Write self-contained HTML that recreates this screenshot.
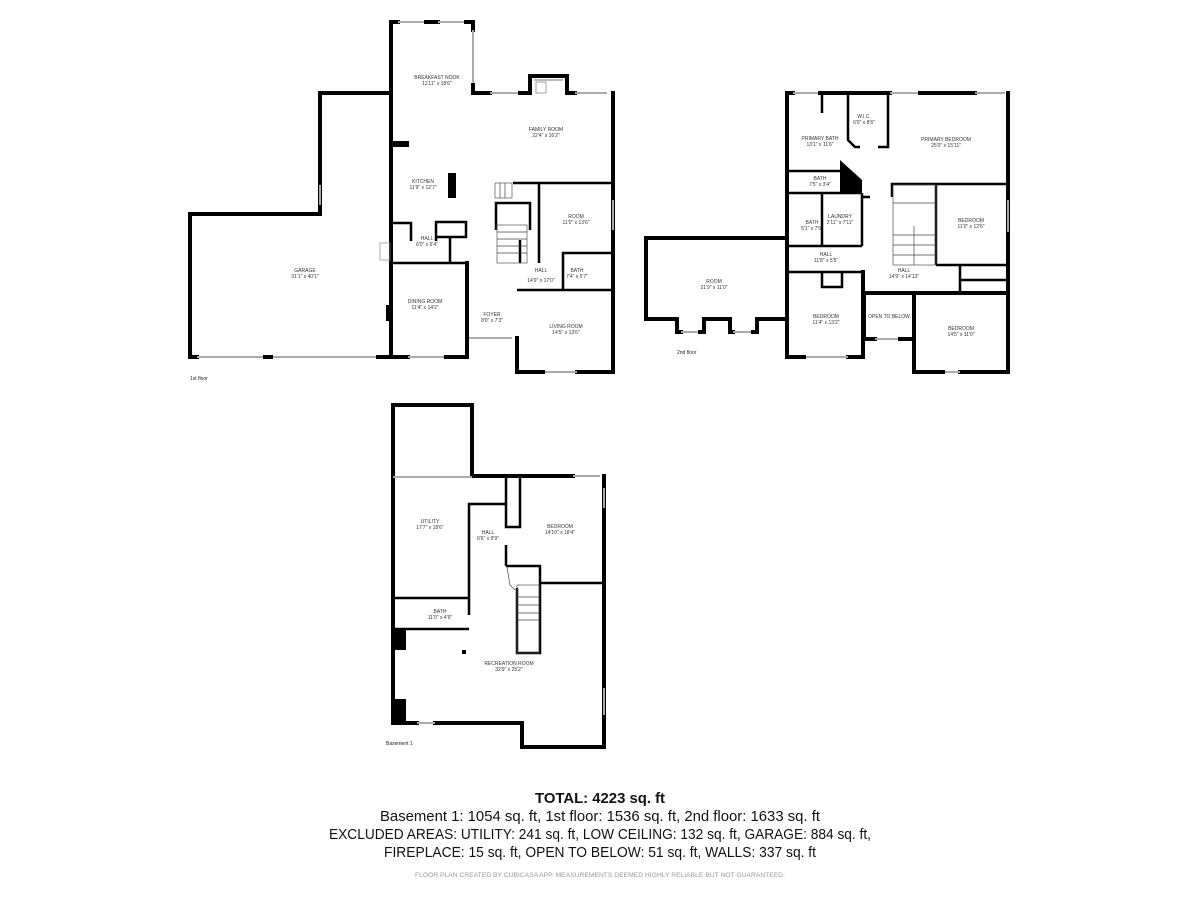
<!DOCTYPE html>
<html><head><meta charset="utf-8"><style>
html,body{margin:0;padding:0;background:#fff;width:1200px;height:900px;overflow:hidden}
svg{display:block}
.w{fill:none;stroke:#000;stroke-width:4;stroke-linecap:square}
.t{fill:none;stroke:#000;stroke-width:2.5}
.g{fill:none;stroke:#aaa;stroke-width:2}
.s{fill:none;stroke:#444;stroke-width:0.7}
text{font-family:"Liberation Sans",sans-serif;fill:#222}
.l{font-size:5px;text-anchor:middle;fill:#333}
</style></head><body>
<svg width="1200" height="900" viewBox="0 0 1200 900">
<!-- FIRST FLOOR -->
<polyline class="w" points="391,93 320,93 320,214 190,214 190,357 197,357"/>
<line class="g" x1="197" y1="357" x2="378" y2="357"/>
<line class="w" x1="378" y1="357" x2="391" y2="357"/>
<line class="w" x1="265" y1="357" x2="271" y2="357"/>
<line class="g" x1="320" y1="185" x2="320" y2="205"/>
<polyline class="w" points="391,22 391,357 408,357"/>
<line class="g" x1="408" y1="357" x2="446" y2="357"/>
<polyline class="w" points="446,357 467,357 467,263"/>
<line class="w" x1="391" y1="22" x2="398" y2="22"/>
<line class="g" x1="398" y1="22" x2="426" y2="22"/>
<line class="w" x1="426" y1="22" x2="438" y2="22"/>
<line class="g" x1="438" y1="22" x2="466" y2="22"/>
<polyline class="w" points="466,22 473,22 473,30"/>
<line class="g" x1="473" y1="30" x2="473" y2="85"/>
<polyline class="w" points="473,85 473,93 490,93"/>
<line class="g" x1="490" y1="93" x2="520" y2="93"/>
<polyline class="w" points="520,93 530,93 530,76 567,76 567,93 575,93"/>
<line class="s" x1="534" y1="80" x2="563" y2="80"/>
<rect x="536" y="82" width="10" height="11" fill="none" stroke="#666" stroke-width="0.6"/>
<line class="g" x1="575" y1="93" x2="607" y2="93"/>
<polyline class="w" points="613,93 613,372 577,372"/>
<line class="g" x1="543" y1="372" x2="577" y2="372"/>
<polyline class="w" points="543,372 517,372 517,338"/>
<line class="g" x1="469" y1="338" x2="512" y2="338"/>
<line class="g" x1="613" y1="200" x2="613" y2="230"/>
<rect x="393" y="141" width="16" height="6" fill="#000"/>
<rect x="448" y="173" width="8" height="25" fill="#000"/>
<rect x="386" y="305" width="5" height="16" fill="#000"/>
<!-- interior 1st -->
<line class="t" x1="513" y1="183" x2="613" y2="183"/>
<line class="t" x1="539" y1="183" x2="539" y2="263"/>
<polyline class="t" points="563,290 563,253 613,253"/>
<line class="t" x1="517" y1="290" x2="613" y2="290"/>
<line class="t" x1="520" y1="240" x2="520" y2="263"/>
<polyline class="t" points="496,230 496,203 530,203 530,230"/>
<rect x="495" y="183" width="17" height="15" fill="none" stroke="#555" stroke-width="0.7"/>
<rect x="497" y="225" width="30" height="38" fill="none" stroke="#555" stroke-width="0.7"/>
<line class="s" x1="497" y1="232" x2="527" y2="232"/><line class="s" x1="497" y1="239" x2="527" y2="239"/><line class="s" x1="497" y1="246" x2="527" y2="246"/><line class="s" x1="497" y1="253" x2="527" y2="253"/>
<line class="s" x1="500" y1="183" x2="500" y2="198"/><line class="s" x1="505" y1="183" x2="505" y2="198"/>
<line class="t" x1="391" y1="263" x2="467" y2="263"/>
<polyline class="t" points="393,223 411,223 411,241"/>
<polyline class="t" points="436,241 436,222 466,222 466,237 436,237"/>
<line class="t" x1="450" y1="237" x2="450" y2="263"/>
<line class="t" x1="467" y1="263" x2="467" y2="275"/>
<rect x="380" y="243" width="10" height="17" fill="none" stroke="#888" stroke-width="0.7"/>
<text class="l" x="437" y="79">BREAKFAST NOOK</text><text class="l" x="437" y="85">11'11" x 18'6"</text>
<text class="l" x="546" y="131">FAMILY ROOM</text><text class="l" x="546" y="137">22'4" x 16'2"</text>
<text class="l" x="423" y="183">KITCHEN</text><text class="l" x="423" y="189">11'9" x 12'7"</text>
<text class="l" x="576" y="218">ROOM</text><text class="l" x="576" y="224">11'0" x 13'6"</text>
<text class="l" x="427" y="240">HALL</text><text class="l" x="427" y="246">6'0" x 6'4"</text>
<text class="l" x="305" y="272">GARAGE</text><text class="l" x="305" y="278">31'1" x 40'1"</text>
<text class="l" x="541" y="272">HALL</text><text class="l" x="541" y="282">14'9" x 17'0"</text>
<text class="l" x="577" y="272">BATH</text><text class="l" x="577" y="278">7'4" x 5'7"</text>
<text class="l" x="425" y="303">DINING ROOM</text><text class="l" x="425" y="309">11'4" x 14'2"</text>
<text class="l" x="492" y="316">FOYER</text><text class="l" x="492" y="322">8'0" x 7'3"</text>
<text class="l" x="566" y="328">LIVING ROOM</text><text class="l" x="566" y="334">14'5" x 13'6"</text>
<text x="190" y="380" style="font-size:5px">1st floor</text>

<!-- SECOND FLOOR -->
<polyline class="w" points="787,357 787,93 793,93"/>
<line class="g" x1="793" y1="93" x2="820" y2="93"/>
<line class="w" x1="820" y1="93" x2="890" y2="93"/>
<line class="g" x1="890" y1="93" x2="920" y2="93"/>
<line class="w" x1="920" y1="93" x2="975" y2="93"/>
<line class="g" x1="975" y1="93" x2="1005" y2="93"/>
<polyline class="w" points="1008,93 1008,372 960,372"/>
<line class="g" x1="943" y1="372" x2="960" y2="372"/>
<polyline class="w" points="943,372 914,372 914,293"/>
<line class="g" x1="1008" y1="200" x2="1008" y2="232"/>
<polyline class="w" points="864,293 864,339 875,339"/>
<line class="g" x1="875" y1="339" x2="900" y2="339"/>
<line class="w" x1="900" y1="339" x2="914" y2="339"/>
<line class="w" x1="864" y1="293" x2="1008" y2="293"/>
<polyline class="w" points="863,272 863,357 848,357"/>
<line class="g" x1="804" y1="357" x2="848" y2="357"/>
<line class="w" x1="787" y1="357" x2="804" y2="357"/>
<polyline class="w" points="787,238 646,238 646,319 677,319 677,332 681,332"/>
<line class="g" x1="681" y1="332" x2="700" y2="332"/>
<polyline class="w" points="700,332 704,332 704,319 730,319 730,332 733,332"/>
<line class="g" x1="733" y1="332" x2="753" y2="332"/>
<polyline class="w" points="753,332 757,332 757,319 787,319"/>
<!-- interior 2nd -->
<polyline class="t" points="848,93 848,140 855,147 860,147"/>
<polyline class="t" points="878,147 888,147 888,93"/>
<line class="t" x1="822" y1="93" x2="822" y2="113"/>
<line class="t" x1="787" y1="171" x2="840" y2="171"/>
<line class="t" x1="787" y1="193" x2="862" y2="193"/>
<polygon points="840,160 840,193 862,193 862,180" fill="#000"/>
<line class="t" x1="822" y1="193" x2="822" y2="246"/>
<line class="t" x1="862" y1="193" x2="862" y2="246"/>
<line class="t" x1="787" y1="246" x2="862" y2="246"/>
<line class="t" x1="862" y1="197" x2="870" y2="197"/>
<line class="t" x1="787" y1="272" x2="863" y2="272"/>
<polyline class="t" points="822,272 822,287 842,287 842,272"/>
<polyline class="t" points="892,197 892,184 1008,184"/>
<line class="t" x1="936" y1="184" x2="936" y2="265"/>
<line class="t" x1="936" y1="265" x2="1008" y2="265"/>
<line class="t" x1="960" y1="265" x2="960" y2="293"/>
<line class="t" x1="960" y1="280" x2="1008" y2="280"/>
<rect x="893" y="185" width="43" height="80" fill="none" stroke="#555" stroke-width="0.7"/>
<line class="s" x1="893" y1="203" x2="936" y2="203"/><line class="s" x1="914" y1="226" x2="914" y2="265"/>
<line class="s" x1="893" y1="235" x2="936" y2="235"/><line class="s" x1="893" y1="245" x2="936" y2="245"/><line class="s" x1="893" y1="255" x2="936" y2="255"/>
<text class="l" x="820" y="140">PRIMARY BATH</text><text class="l" x="820" y="146">13'1" x 11'6"</text>
<text class="l" x="864" y="118">W.I.C.</text><text class="l" x="864" y="124">6'0" x 8'6"</text>
<text class="l" x="946" y="141">PRIMARY BEDROOM</text><text class="l" x="946" y="147">25'0" x 15'11"</text>
<text class="l" x="820" y="180">BATH</text><text class="l" x="820" y="186">7'5" x 3'4"</text>
<text class="l" x="812" y="224">BATH</text><text class="l" x="812" y="230">5'1" x 7'6"</text>
<text class="l" x="840" y="218">LAUNDRY</text><text class="l" x="840" y="224">2'11" x 7'11"</text>
<text class="l" x="971" y="222">BEDROOM</text><text class="l" x="971" y="228">11'0" x 12'6"</text>
<text class="l" x="826" y="256">HALL</text><text class="l" x="826" y="262">11'8" x 5'5"</text>
<text class="l" x="904" y="272">HALL</text><text class="l" x="904" y="278">14'9" x 14'13"</text>
<text class="l" x="714" y="283">ROOM</text><text class="l" x="714" y="289">21'9" x 11'0"</text>
<text class="l" x="826" y="318">BEDROOM</text><text class="l" x="826" y="324">11'4" x 13'2"</text>
<text class="l" x="889" y="318">OPEN TO BELOW</text>
<text class="l" x="961" y="330">BEDROOM</text><text class="l" x="961" y="336">14'5" x 11'0"</text>
<text x="677" y="354" style="font-size:5px">2nd floor</text>

<!-- BASEMENT -->
<polyline class="w" points="417,723 393,723 393,405 472,405 472,476 573,476"/>
<line class="g" x1="573" y1="476" x2="600" y2="476"/>
<polyline class="w" points="604,476 604,747 522,747 522,723 435,723"/>
<line class="g" x1="417" y1="723" x2="435" y2="723"/>
<line class="g" x1="604" y1="488" x2="604" y2="508"/>
<line class="g" x1="604" y1="688" x2="604" y2="715"/>
<line class="g" x1="393" y1="477" x2="472" y2="477"/>
<polyline class="t" points="469,615 469,504 505,504"/>
<line class="t" x1="393" y1="598" x2="469" y2="598"/>
<line class="t" x1="393" y1="629" x2="469" y2="629"/>
<polyline class="t" points="506,476 506,527 520,527 520,478"/>
<line class="t" x1="506" y1="545" x2="506" y2="566"/>
<polyline class="t" points="506,566 540,566 540,653 517,653 517,588"/>
<line class="t" x1="540" y1="583" x2="604" y2="583"/>
<rect x="517" y="585" width="22" height="68" fill="none" stroke="#555" stroke-width="0.7"/>
<line class="s" x1="517" y1="597" x2="539" y2="597"/><line class="s" x1="517" y1="605" x2="539" y2="605"/><line class="s" x1="517" y1="613" x2="539" y2="613"/><line class="s" x1="517" y1="620" x2="539" y2="620"/>
<polyline class="s" points="507,567 510,585 515,590"/>
<rect x="391" y="629" width="15" height="21" fill="#000"/>
<rect x="391" y="699" width="15" height="24" fill="#000"/>
<rect x="462" y="650" width="4" height="4" fill="#000"/>
<text class="l" x="430" y="523">UTILITY</text><text class="l" x="430" y="529">17'7" x 18'6"</text>
<text class="l" x="488" y="534">HALL</text><text class="l" x="488" y="540">6'6" x 9'9"</text>
<text class="l" x="560" y="528">BEDROOM</text><text class="l" x="560" y="534">14'10" x 18'4"</text>
<text class="l" x="440" y="613">BATH</text><text class="l" x="440" y="619">11'0" x 4'9"</text>
<text class="l" x="509" y="665">RECREATION ROOM</text><text class="l" x="509" y="671">32'9" x 25'2"</text>
<text x="386" y="745" style="font-size:5px">Basement 1</text>

<!-- Summary -->
<text x="600" y="803" text-anchor="middle" style="font-size:15px;font-weight:bold;fill:#111" textLength="130" lengthAdjust="spacingAndGlyphs">TOTAL: 4223 sq. ft</text>
<text x="600" y="821" text-anchor="middle" style="font-size:15px;fill:#111" textLength="440" lengthAdjust="spacingAndGlyphs">Basement 1: 1054 sq. ft, 1st floor: 1536 sq. ft, 2nd floor: 1633 sq. ft</text>
<text x="600" y="839" text-anchor="middle" style="font-size:15px;fill:#111" textLength="542" lengthAdjust="spacingAndGlyphs">EXCLUDED AREAS: UTILITY: 241 sq. ft, LOW CEILING: 132 sq. ft, GARAGE: 884 sq. ft,</text>
<text x="600" y="857" text-anchor="middle" style="font-size:15px;fill:#111" textLength="432" lengthAdjust="spacingAndGlyphs">FIREPLACE: 15 sq. ft, OPEN TO BELOW: 51 sq. ft, WALLS: 337 sq. ft</text>
<text x="600" y="877" text-anchor="middle" style="font-size:6px;fill:#999" textLength="370" lengthAdjust="spacingAndGlyphs">FLOOR PLAN CREATED BY CUBICASA APP. MEASUREMENTS DEEMED HIGHLY RELIABLE BUT NOT GUARANTEED.</text>
</svg>
</body></html>
